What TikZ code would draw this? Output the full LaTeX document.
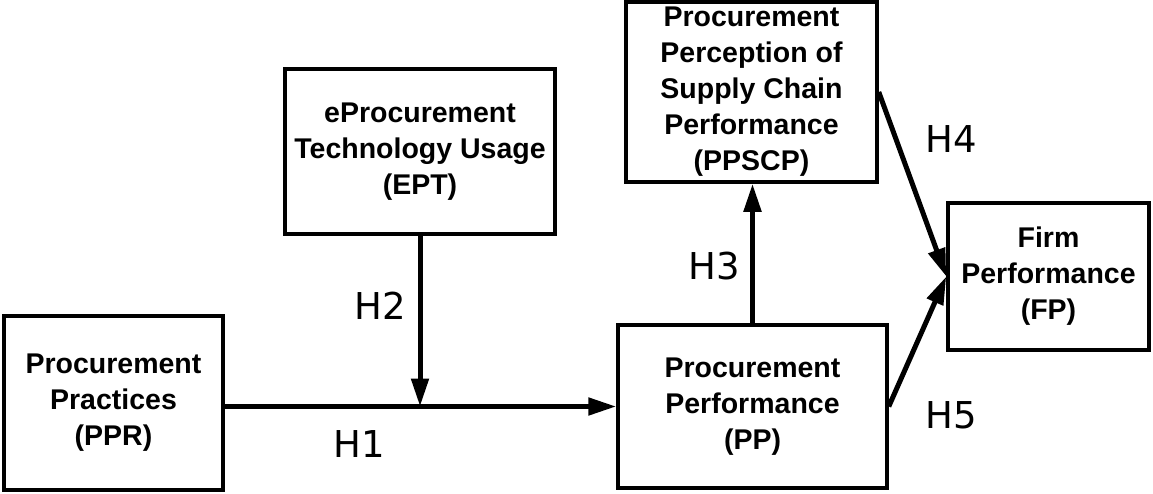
\documentclass[tikz,border=0pt]{standalone}
\usepackage{fontspec}
\setmainfont{Liberation Sans}
\newfontfamily\boxfont{Liberation Sans}
\newfontfamily\labfont{DejaVu Sans}
\usetikzlibrary{arrows.meta}
\begin{document}
\begin{tikzpicture}[x=1pt,y=-1pt,
  box/.style={draw, line width=3.5pt, align=center, inner sep=0pt,
    font=\boxfont\bfseries\fontsize{28.5}{36}\selectfont},
  arr/.style={line width=5pt, -{Triangle[length=28pt,width=17pt]}},
  lab/.style={font=\labfont\fontsize{37}{44}\selectfont, inner sep=0pt}]
\useasboundingbox (0,0) rectangle (1153,493);
\node[box, minimum width=219pt, minimum height=174pt] (PPR) at (113.5,403) {Procurement\\Practices\\(PPR)};
\node[box, minimum width=270pt, minimum height=165pt] (EPT) at (420,151.5) {eProcurement\\Technology Usage\\(EPT)};
\node[box, minimum width=269pt, minimum height=163pt] (PP) at (752.5,406.5) {Procurement\\Performance\\(PP)};
\node[box, minimum width=251pt, minimum height=180pt] (PPSCP) at (751.5,92) {Procurement\\Perception of\\Supply Chain\\Performance\\(PPSCP)};
\node[box, minimum width=201pt, minimum height=147pt] (FP) at (1048.5,276.5) {Firm\\Performance\\(FP)};
\draw[arr] (PPR.east |- PP.west) -- (PP.west);
\draw[arr] (EPT.south) -- (EPT.south |- PP.west);
\draw[arr] (PP.north) -- (PP.north |- PPSCP.south);
\draw[arr] (PPSCP.east) -- (FP.west);
\draw[arr] (PP.east) -- (FP.west);
\node[lab] (h1) at (359,444) {H1};
\node[lab] (h2) at (380.5,305.5) {H2};
\node[lab] (h3) at (714,266) {H3};
\node[lab] (h4) at (951,139.5) {H4};
\node[lab] (h5) at (951.5,415) {H5};
\end{tikzpicture}
\end{document}
